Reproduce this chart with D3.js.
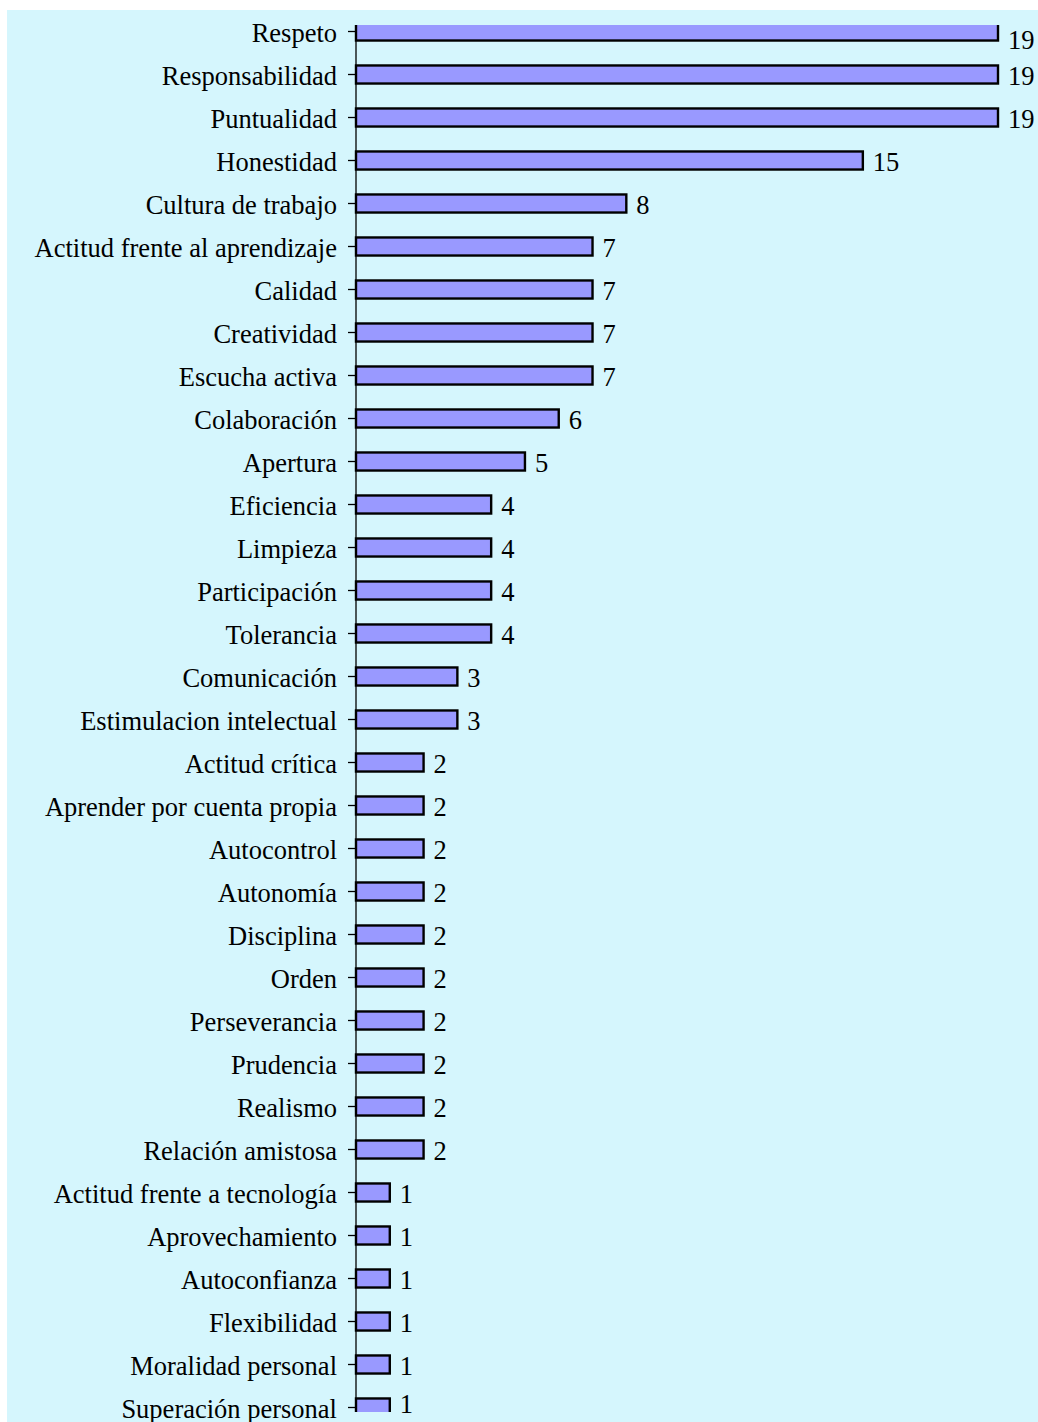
<!DOCTYPE html>
<html>
<head>
<meta charset="utf-8">
<script src="https://cdn.jsdelivr.net/npm/d3@7"></script>
<style>
  html, body { margin: 0; padding: 0; background: #ffffff; }
  svg { display: block; }
</style>
</head>
<body>
<svg id="chart" width="1038" height="1422"></svg>
<script>
const categories = [
  "Respeto", "Responsabilidad", "Puntualidad", "Honestidad", "Cultura de trabajo",
  "Actitud frente al aprendizaje", "Calidad", "Creatividad", "Escucha activa",
  "Colaboración", "Apertura", "Eficiencia", "Limpieza", "Participación", "Tolerancia",
  "Comunicación", "Estimulacion intelectual", "Actitud crítica", "Aprender por cuenta propia",
  "Autocontrol", "Autonomía", "Disciplina", "Orden", "Perseverancia", "Prudencia",
  "Realismo", "Relación amistosa", "Actitud frente a tecnología", "Aprovechamiento",
  "Autoconfianza", "Flexibilidad", "Moralidad personal", "Superación personal"
];
const values = [19, 19, 19, 15, 8, 7, 7, 7, 7, 6, 5, 4, 4, 4, 4, 3, 3,
  2, 2, 2, 2, 2, 2, 2, 2, 2, 2, 1, 1, 1, 1, 1, 1];
const valueDomain = [0, 19];

const W = 1038, H = 1422;
const bgLeft = 7, bgTop = 10;
const axisX = 356, maxX = 998;
const plotTop = 25, plotBottom = 1412;
const font = "'Liberation Serif', 'Times New Roman', Times, serif";
const fontSize = 26.5;

const svg = d3.select("#chart");

svg.append("rect")
  .attr("x", bgLeft).attr("y", bgTop)
  .attr("width", W - bgLeft).attr("height", H - bgTop)
  .attr("fill", "#d5f6fd");

const x = d3.scaleLinear().domain(valueDomain).range([axisX, maxX]);
const y = d3.scaleBand().domain(categories).range([10, 1429])
  .paddingInner(0.58).paddingOuter(0.29);

const defs = svg.append("defs");
defs.append("clipPath").attr("id", "plotclip")
  .append("rect")
  .attr("x", axisX - 2).attr("y", plotTop)
  .attr("width", W - axisX + 2).attr("height", plotBottom - plotTop);

const data = categories.map((c, i) => ({ c, v: values[i] }));

svg.append("g").attr("clip-path", "url(#plotclip)")
  .selectAll("rect").data(data).join("rect")
  .attr("x", x(0))
  .attr("y", d => y(d.c))
  .attr("width", d => x(d.v) - x(0))
  .attr("height", y.bandwidth())
  .attr("fill", "#9999ff")
  .attr("stroke", "#000")
  .attr("stroke-width", 2.4);

// category axis
const axis = d3.axisLeft(y).tickSize(8).tickPadding(11).tickSizeOuter(0);
const gA = svg.append("g").attr("transform", `translate(${axisX},0)`).call(axis);
gA.select(".domain").remove();
gA.selectAll(".tick line").attr("stroke", "#000").attr("stroke-width", 1.3);
gA.selectAll(".tick text")
  .attr("font-family", font).attr("font-size", fontSize)
  .attr("fill", "#000").attr("dy", "0.38em");

svg.append("line")
  .attr("x1", axisX).attr("x2", axisX)
  .attr("y1", plotTop).attr("y2", plotBottom)
  .attr("stroke", "#000").attr("stroke-width", 1.3);

// value labels
svg.append("g").selectAll("text").data(data).join("text")
  .attr("x", d => x(d.v) + 10)
  .attr("y", d => {
    const c = y(d.c) + y.bandwidth() / 2;
    return Math.min(Math.max(c, plotTop + 13), plotBottom - 10);
  })
  .attr("dy", "0.4em")
  .attr("font-family", font).attr("font-size", fontSize)
  .attr("fill", "#000")
  .text(d => d.v);
</script>
</body>
</html>
